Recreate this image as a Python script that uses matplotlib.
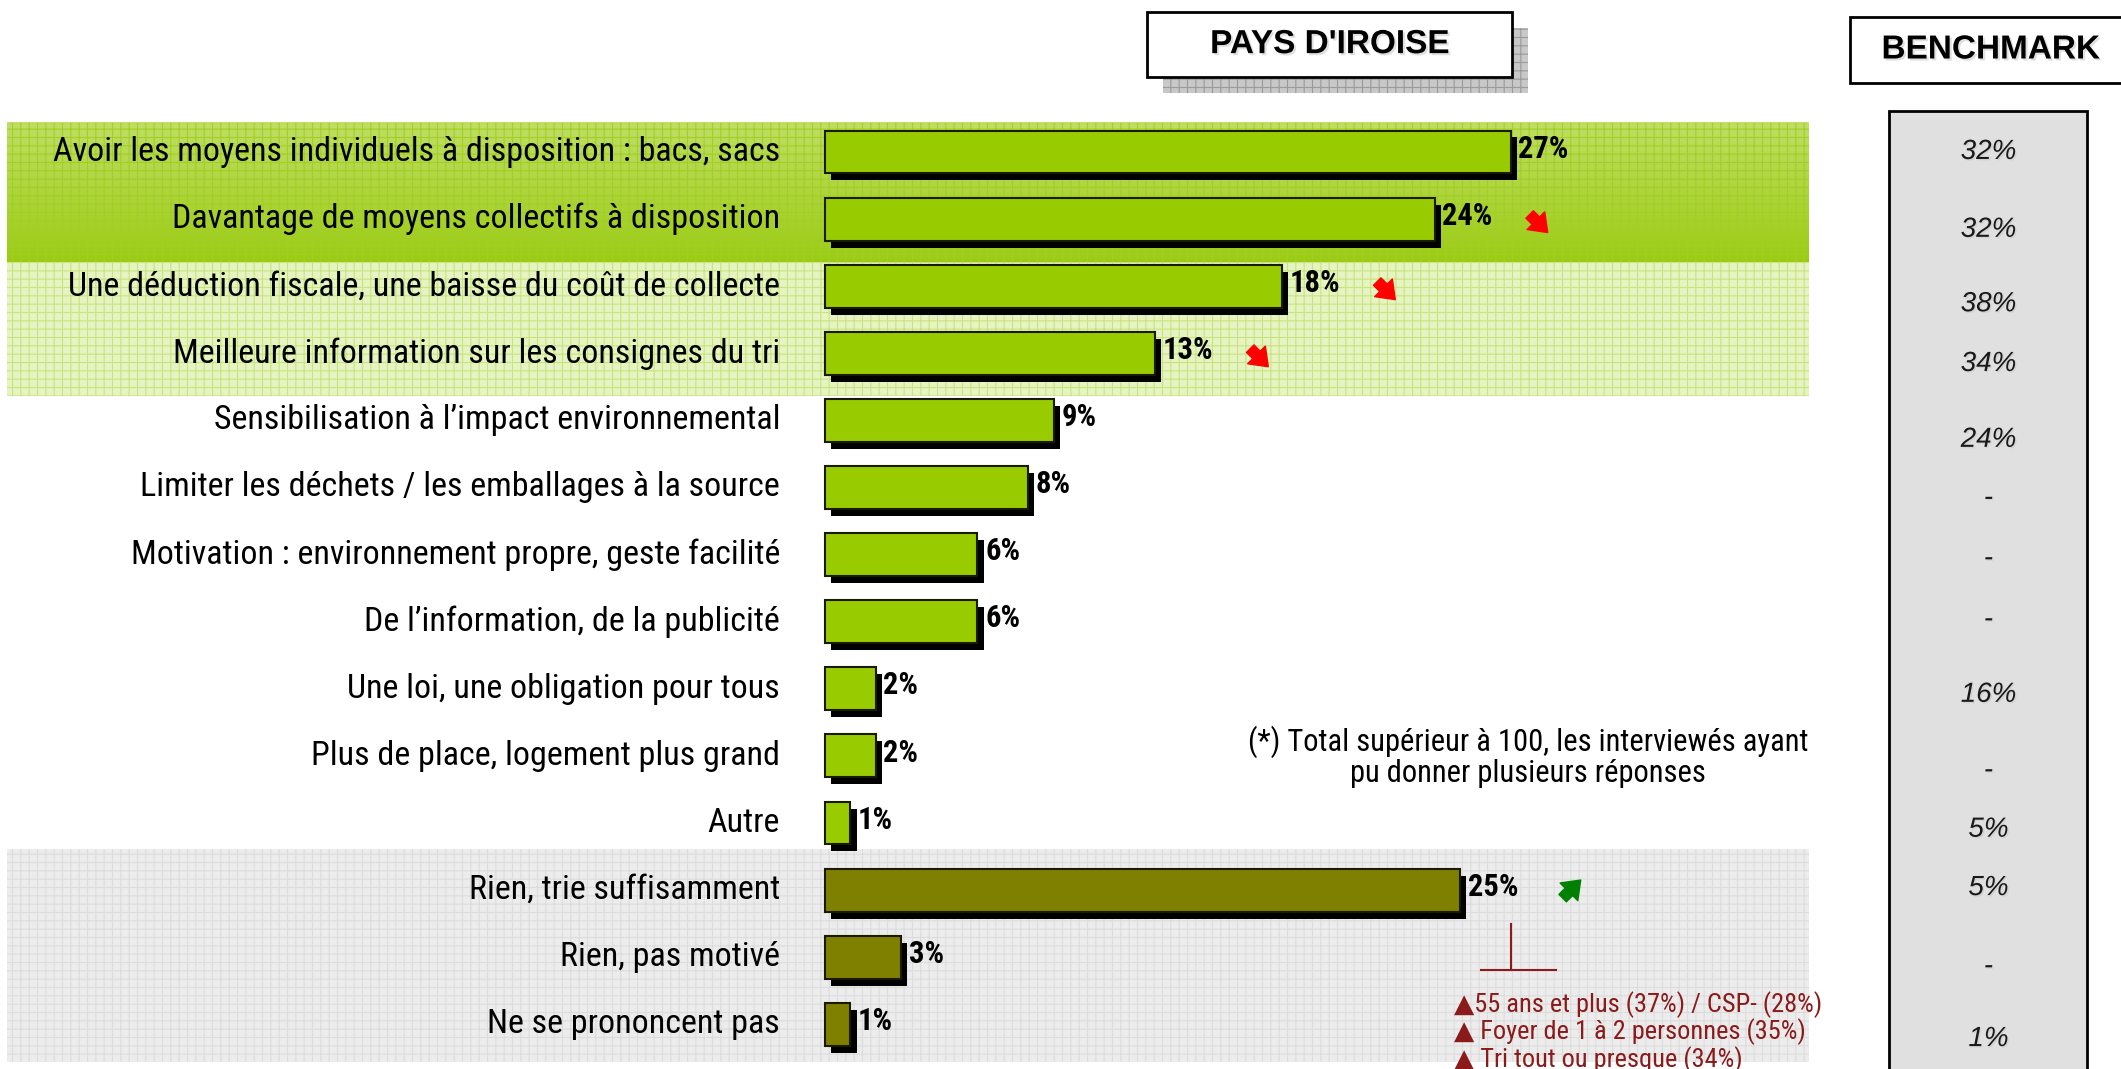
import matplotlib
matplotlib.use("Agg")
import matplotlib.pyplot as plt
import matplotlib.patheffects as pe
from matplotlib import font_manager
from matplotlib.patches import Rectangle
import numpy as np

# pick a narrow sans if one is installed, Roboto otherwise
installed = {f.name for f in font_manager.fontManager.ttflist}
narrow = "Roboto"
for cand in ["Liberation Sans Narrow", "DejaVu Sans Condensed", "Roboto Condensed"]:
    if cand in installed:
        narrow = cand
        break
plt.rcParams['font.family'] = [narrow, 'DejaVu Sans']
plt.rcParams['hatch.linewidth'] = 0.8

# data
categories = [
    "Avoir les moyens individuels à disposition : bacs, sacs",
    "Davantage de moyens collectifs à disposition",
    "Une déduction fiscale, une baisse du coût de collecte",
    "Meilleure information sur les consignes du tri",
    "Sensibilisation à l’impact environnemental",
    "Limiter les déchets / les emballages à la source",
    "Motivation : environnement propre, geste facilité",
    "De l’information, de la publicité",
    "Une loi, une obligation pour tous",
    "Plus de place, logement plus grand",
    "Autre",
    "Rien, trie suffisamment",
    "Rien, pas motivé",
    "Ne se prononcent pas",
]
values = [27, 24, 18, 13, 9, 8, 6, 6, 2, 2, 1, 25, 3, 1]
groups = ["act"] * 11 + ["rien"] * 3
trends = ["", "down", "down", "down", "", "", "", "", "", "", "", "up", "", ""]
benchmark = ["32%", "32%", "38%", "34%", "24%", "-", "-", "-", "16%", "-",
             "5%", "5%", "-", "1%"]
# vertical placement of the benchmark figures (row units)
bench_rows = [0.0, 1.16, 2.27, 3.16, 4.29, 5.16, 6.06, 6.97, 8.09, 9.22,
              10.1, 10.97, 12.14, 13.22]
sub_notes = ["▲55 ans et plus (37%) / CSP- (28%)",
             "▲ Foyer de 1 à 2 personnes (35%)",
             "▲ Tri tout ou presque (34%)"]
note = "(*) Total supérieur à 100, les interviewés ayant\npu donner plusieurs réponses"

bar_colors = {"act": "#99CC00", "rien": "#808000"}

fig = plt.figure(figsize=(21.21, 10.69), dpi=100)
ax = fig.add_axes([0, 0, 1, 1])
ax.set_xlim(-32.48, 51.02)
ax.set_ylim(13.666, -2.265)
ax.axis("off")

# background bands
grad = np.linspace(0, 1, 100)[:, None]
top_c = np.array([0.75, 0.87, 0.40])
bot_c = np.array([0.61, 0.80, 0.08])
img = top_c + (bot_c - top_c) * grad[..., None]
ax.imshow(img, extent=(-32.2, 38.74, 1.64, -0.432), aspect="auto", zorder=0)
ax.add_patch(Rectangle((-32.2, -0.432), 70.94, 2.072, facecolor="none",
                       edgecolor="#a2cf22", hatch="++", linewidth=0, zorder=0.5))
ax.add_patch(Rectangle((-32.2, 1.64), 70.94, 2.0, facecolor="#e6f3c2",
                       edgecolor="#c8e47e", hatch="++", linewidth=0, zorder=0.5))
ax.add_patch(Rectangle((-32.2, 10.39), 70.94, 3.17, facecolor="#ececec",
                       edgecolor="#dcdcdc", hatch="++", linewidth=0, zorder=0.5))

rows = np.arange(len(values))
colors = [bar_colors[g] for g in groups]

# shadows then bars
ax.barh(rows + 0.104, values, left=0.24, height=0.64, color="black", zorder=2)
ax.barh(rows, values, height=0.64, color=colors, edgecolor="#1a1a00",
        linewidth=1.5, zorder=3)

arrow_style = "simple,head_length=0.6,head_width=0.9,tail_width=0.38"
for r, (cat, v) in enumerate(zip(categories, values)):
    ax.text(-1.77, r, cat, ha="right", va="center", fontsize=24.5, zorder=4)
    ax.text(v + 0.3, r - 0.05, f"{v}%", ha="left", va="center",
            fontsize=22, fontweight="bold", zorder=4)
    if trends[r] == "down":
        ax.annotate("", xy=(v + 4.45, r + 0.2), xytext=(-13, 13),
                    textcoords="offset points",
                    arrowprops=dict(arrowstyle=arrow_style, color="#ff0000",
                                    mutation_scale=20, shrinkA=0, shrinkB=0))
    elif trends[r] == "up":
        ax.annotate("", xy=(v + 4.75, r - 0.15), xytext=(-13, -13),
                    textcoords="offset points",
                    arrowprops=dict(arrowstyle=arrow_style, color="#008000",
                                    mutation_scale=20, shrinkA=0, shrinkB=0))

# header boxes
shadow_pe = [pe.SimplePatchShadow(offset=(1.5, -1.5), shadow_rgbFace="0.6"), pe.Normal()]
ax.add_patch(Rectangle((13.31, -1.848), 14.37, 0.968, facecolor="#c8c8c8",
                       edgecolor="#9a9a9a", hatch="++", linewidth=0, zorder=5))
ax.add_patch(Rectangle((12.68, -2.086), 14.37, 0.968, facecolor="white",
                       edgecolor="black", linewidth=2, zorder=6))
ax.text(19.87, -1.6, "PAYS D'IROISE", ha="center", va="center", fontsize=24,
        fontweight="bold", family=["Liberation Sans", "DejaVu Sans"],
        path_effects=shadow_pe, zorder=7)

ax.add_patch(Rectangle((40.98, -1.77), 12, 0.238, facecolor="#c8c8c8",
                       edgecolor="#9a9a9a", hatch="++", linewidth=0, zorder=5))
ax.add_patch(Rectangle((40.35, -2.01), 12, 0.98, facecolor="white",
                       edgecolor="black", linewidth=2, zorder=6))
ax.text(45.9, -1.52, "BENCHMARK", ha="center", va="center", fontsize=24,
        fontweight="bold", family=["Liberation Sans", "DejaVu Sans"],
        path_effects=shadow_pe, zorder=7)

# benchmark column
ax.add_patch(Rectangle((41.89, -0.611), 7.8, 15, facecolor="#e0e0e0",
                       edgecolor="black", linewidth=2, zorder=5))
for b, y in zip(benchmark, bench_rows):
    ax.text(45.8, y, b, ha="center", va="center", fontsize=20, style="italic",
            family=["Liberation Sans", "DejaVu Sans"], color="#1a1a1a",
            path_effects=[pe.SimplePatchShadow(offset=(1, -1), shadow_rgbFace="0.7"), pe.Normal()],
            zorder=6)

# footnote
ax.text(27.68, 9.01, note, ha="center", va="center", fontsize=22,
        linespacing=1.05, zorder=4)

# sub-group annotation on "Rien, trie suffisamment"
red = "#8b1a1a"
ax.plot([27.0, 27.0], [11.5, 12.19], color=red, lw=1.5, zorder=4)
ax.plot([25.83, 28.78], [12.19, 12.19], color=red, lw=1.5, zorder=4)
for i, s in enumerate(sub_notes):
    ax.text(24.76, 12.70 + 0.41 * i, s, ha="left", va="center", fontsize=19,
            color=red, zorder=4)

fig.savefig("out.png", dpi=100)
